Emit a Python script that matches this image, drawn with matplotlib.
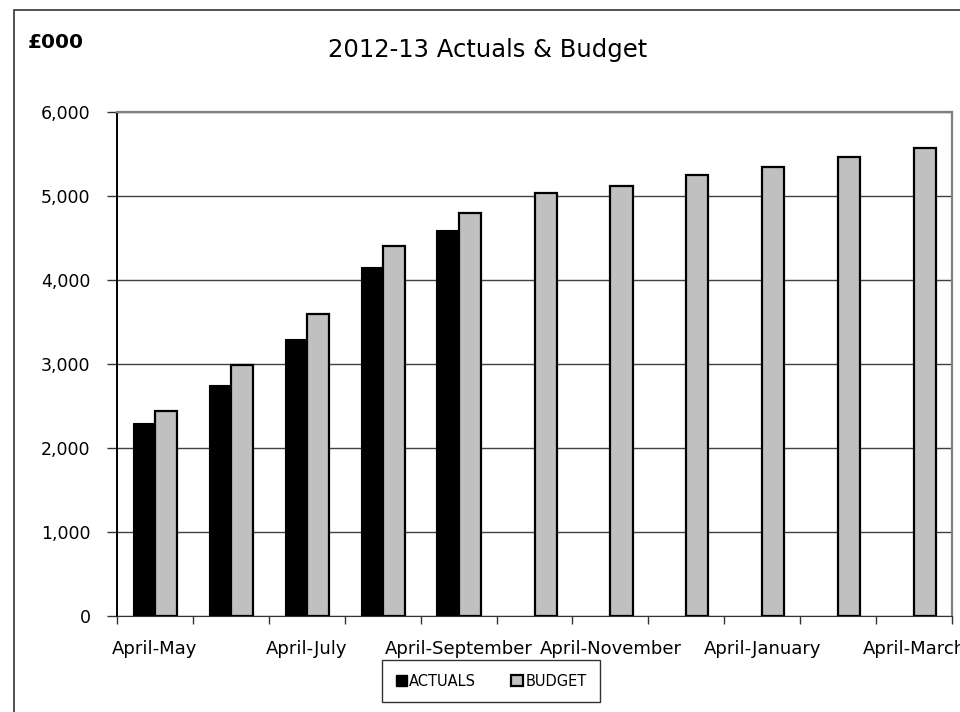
import matplotlib.pyplot as plt
import matplotlib.patches as mpatches
import numpy as np

# datos (miles de libras)
periodos = ["April-May", "April-June", "April-July", "April-August",
            "April-September", "April-October", "April-November",
            "April-December", "April-January", "April-February", "April-March"]
actuals = [2300, 2750, 3300, 4160, 4590, np.nan, np.nan, np.nan, np.nan, np.nan, np.nan]
budget = [2440, 2990, 3590, 4410, 4800, 5040, 5120, 5250, 5350, 5470, 5570]

plt.rcParams['font.family'] = ['DejaVu Sans']

fig = plt.figure(figsize=(9.6, 7.12), dpi=100)
ax = fig.add_axes([117/960, 1 - 616/712, (952 - 117)/960, (616 - 112)/712])

x = np.arange(len(periodos))
ancho = 0.292
ax.bar(x - ancho/2, actuals, ancho, color="black", edgecolor="black", linewidth=0.8,
       label="ACTUALS", zorder=3)
ax.bar(x + ancho/2, budget, ancho, color="#c0c0c0", edgecolor="black", linewidth=1.6,
       label="BUDGET", zorder=3)

ax.set_xlim(-0.5, len(periodos) - 0.5)
ax.set_ylim(0, 6000)
ax.set_yticks(np.arange(0, 6001, 1000))
ax.set_yticklabels([f"{v:,}" for v in range(0, 6001, 1000)], fontsize=12.5)
ax.yaxis.grid(True, color="#404040", linewidth=1.0, zorder=0)
ax.tick_params(axis="y", length=7, width=1.0, pad=12, color="#333333")

# etiquetas en cada dos periodos, marcas en los bordes
ax.set_xticks(x[::2])
ax.set_xticklabels(periodos[::2], fontsize=13)
ax.tick_params(axis="x", which="major", length=0, pad=17)
ax.set_xticks(np.arange(-0.5, len(periodos)), minor=True)
ax.tick_params(axis="x", which="minor", length=6, width=1.0, color="#333333")

ax.spines["left"].set_color("black")
ax.spines["left"].set_linewidth(1.4)
ax.spines["bottom"].set_color("#333333")
ax.spines["top"].set_color("#808080")
ax.spines["top"].set_linewidth(1.6)
ax.spines["right"].set_color("#808080")
ax.spines["right"].set_linewidth(1.6)

fig.text(488/960, 1 - 50/712, "2012-13 Actuals & Budget", fontsize=17.5,
         ha="center", va="center")
fig.text(28/960, 1 - 43/712, "£000", fontsize=14.5, fontweight="bold",
         ha="left", va="center")

# marco exterior del grafico
marco = mpatches.Rectangle((14/960, -0.1), 1.2, 1 - 10/712 + 0.1,
                           transform=fig.transFigure, fill=False,
                           edgecolor="#333333", linewidth=1.2)
fig.patches.append(marco)

h1 = mpatches.Patch(facecolor="black", edgecolor="black")
h2 = mpatches.Patch(facecolor="#c0c0c0", edgecolor="black", linewidth=1.6)
leg = fig.legend([h1, h2], ["ACTUALS", "BUDGET"], loc="center",
                 bbox_to_anchor=(491/960, 1 - 681/712), ncol=2, fontsize=10.5,
                 frameon=True, fancybox=False, edgecolor="black",
                 handlelength=0.8, handleheight=0.8, handletextpad=0.15,
                 columnspacing=2.4, borderpad=0.9)
leg.get_frame().set_linewidth(1.0)

fig.savefig("out.png", dpi=100)
